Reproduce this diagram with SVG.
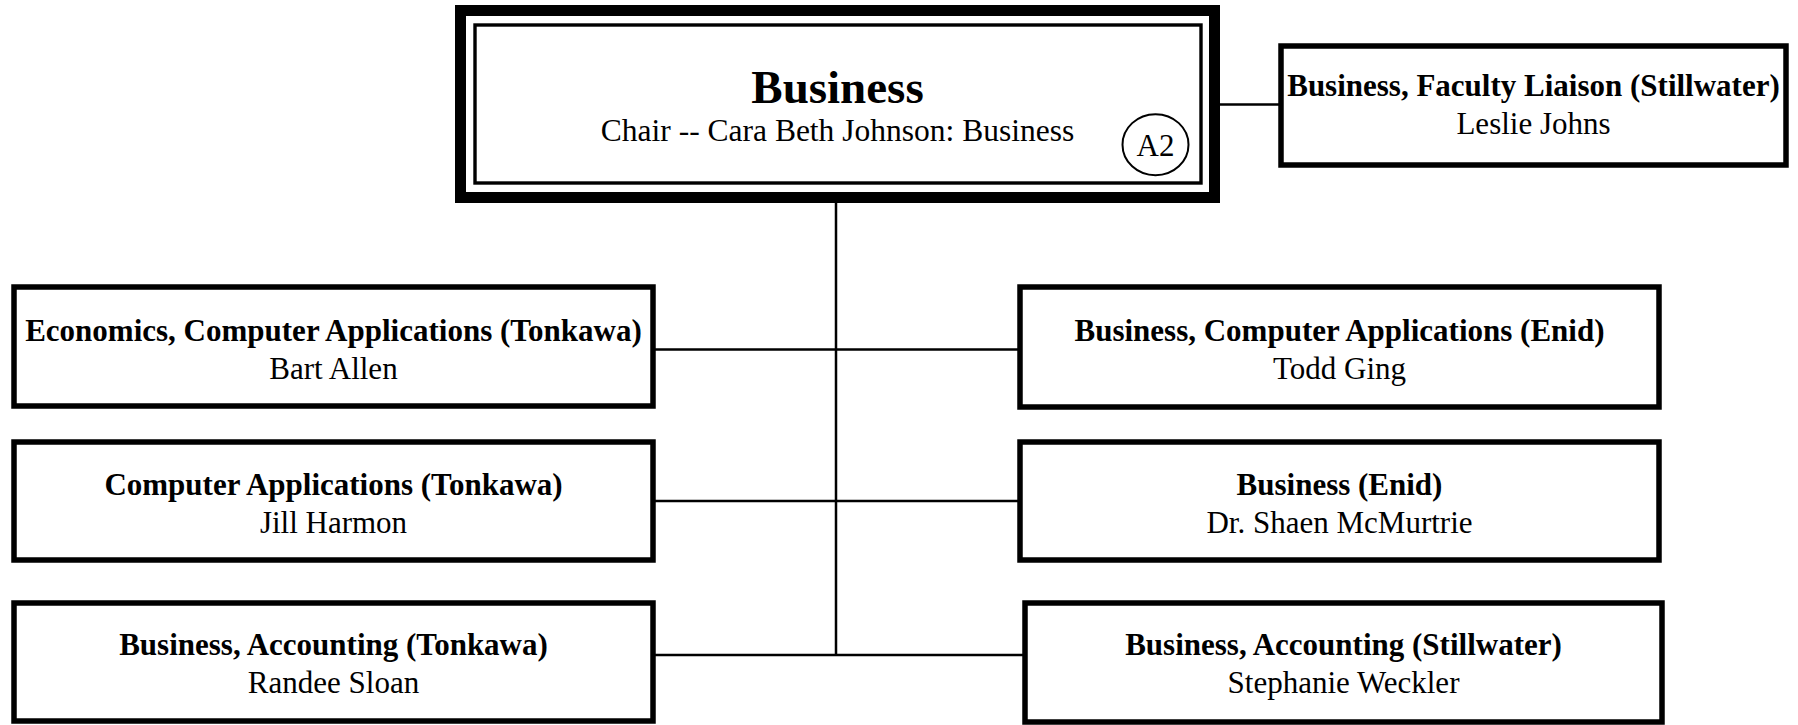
<svg xmlns="http://www.w3.org/2000/svg" width="1798" height="725" viewBox="0 0 1798 725">
<style>
.box{fill:#fff;stroke:#000;stroke-width:5.5}
.t{font-family:"Liberation Serif","Times New Roman",serif;font-size:31px;fill:#000;text-anchor:middle}
.b{font-weight:bold}
.ln{stroke:#000;stroke-width:2.5;fill:none}
</style>
<rect width="1798" height="725" fill="#fff"/>
<g id="connectors">
<line class="ln" x1="836" y1="198" x2="836" y2="655"/>
<line class="ln" x1="655" y1="349.5" x2="1019" y2="349.5"/>
<line class="ln" x1="655" y1="501" x2="1019" y2="501"/>
<line class="ln" x1="655" y1="655" x2="1024" y2="655"/>
<line class="ln" x1="1215" y1="104.5" x2="1280" y2="104.5"/>
</g>
<g id="n-business">
<rect x="460.5" y="10.5" width="754" height="187" fill="#fff" stroke="#000" stroke-width="11"/>
<rect x="475" y="25" width="726" height="158" fill="none" stroke="#000" stroke-width="3.4"/>
<text class="t b" x="837.5" y="103" style="font-size:47px">Business</text>
<text class="t" x="837.5" y="141" style="font-size:31.5px">Chair -- Cara Beth Johnson: Business</text>
<ellipse cx="1155.5" cy="144.7" rx="33" ry="30.5" fill="none" stroke="#000" stroke-width="2"/>
<text class="t" x="1155.5" y="156">A2</text>
</g>
<g id="n-liaison">
<rect class="box" x="1281" y="46" width="505" height="119"/>
<text class="t b" x="1533.5" y="96">Business, Faculty Liaison (Stillwater)</text>
<text class="t" x="1533.5" y="134">Leslie Johns</text>
</g>
<g id="n-econ">
<rect class="box" x="14" y="287" width="639" height="119"/>
<text class="t b" x="333.5" y="341">Economics, Computer Applications (Tonkawa)</text>
<text class="t" x="333.5" y="379">Bart Allen</text>
</g>
<g id="n-compapp">
<rect class="box" x="14" y="442" width="639" height="118"/>
<text class="t b" x="333.5" y="495">Computer Applications (Tonkawa)</text>
<text class="t" x="333.5" y="533">Jill Harmon</text>
</g>
<g id="n-acct-tonkawa">
<rect class="box" x="14" y="603" width="639" height="118"/>
<text class="t b" x="333.5" y="655">Business, Accounting (Tonkawa)</text>
<text class="t" x="333.5" y="693">Randee Sloan</text>
</g>
<g id="n-compapp-enid">
<rect class="box" x="1020" y="287" width="639" height="120"/>
<text class="t b" x="1339.5" y="341">Business, Computer Applications (Enid)</text>
<text class="t" x="1339.5" y="379">Todd Ging</text>
</g>
<g id="n-business-enid">
<rect class="box" x="1020" y="442" width="639" height="118"/>
<text class="t b" x="1339.5" y="495">Business (Enid)</text>
<text class="t" x="1339.5" y="533">Dr. Shaen McMurtrie</text>
</g>
<g id="n-acct-stillwater">
<rect class="box" x="1025" y="603" width="637" height="119"/>
<text class="t b" x="1343.5" y="655">Business, Accounting (Stillwater)</text>
<text class="t" x="1343.5" y="693">Stephanie Weckler</text>
</g>
</svg>
